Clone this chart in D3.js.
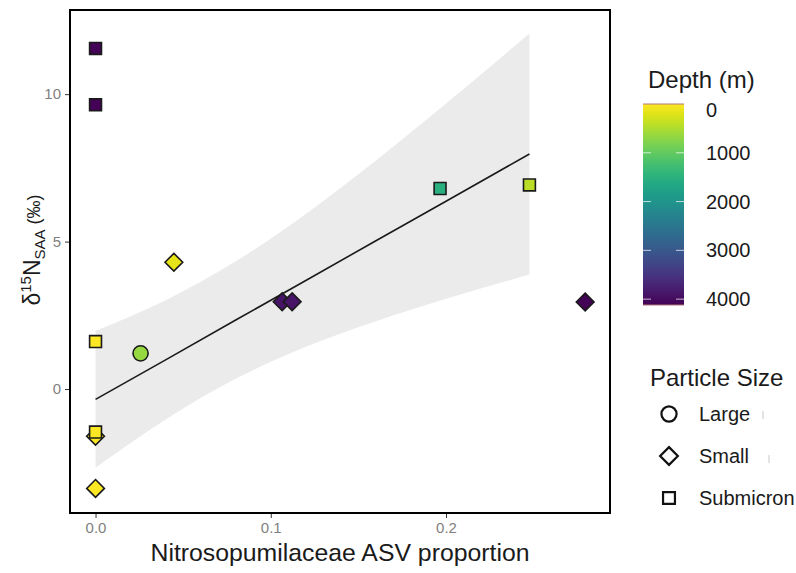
<!DOCTYPE html>
<html>
<head>
<meta charset="utf-8">
<script src="https://cdn.jsdelivr.net/npm/d3@7"></script>
<style>
  body { margin: 0; background: #fff; }
  text { font-family: "Liberation Sans", Arial, sans-serif; }
</style>
</head>
<body>
<svg width="796" height="573"></svg>
<script>
// points
var asvProp = [0, 0, 0.0447, 0, 0.0257, 0, 0, 0, 0.1065, 0.1122, 0.1966, 0.2476, 0.2794];
var d15n    = [11.55, 9.64, 4.30, 1.61, 1.21, -1.60, -1.46, -3.37, 2.96, 2.96, 6.80, 6.92, 2.95];
var depth   = [4100, 4100, 150, 20, 650, 20, 20, 30, 3900, 3900, 1500, 420, 4100];
var sizeCls = ['Submicron', 'Submicron', 'Small', 'Submicron', 'Large', 'Small', 'Submicron',
               'Small', 'Small', 'Small', 'Submicron', 'Submicron', 'Small'];

// linear fit and its confidence band
var fitX   = [0, 0.04, 0.08, 0.12, 0.16, 0.2, 0.2476];
var fitY   = [-0.35, 0.99, 2.34, 3.68, 5.03, 6.37, 7.97];
var fitLow = [-2.67, -1.03, 0.35, 1.43, 2.30, 3.06, 3.88];
var fitUp  = [1.97, 3.01, 4.33, 5.94, 7.75, 9.68, 12.06];

var xTicks = [0, 0.1, 0.2];
var yTicks = [0, 5, 10];
var depthTicks = [0, 1000, 2000, 3000, 4000];
var sizeLevels = ['Large', 'Small', 'Submicron'];

var svg = d3.select('svg');

var x = d3.scaleLinear().domain([-0.014, 0.293]).range([71, 609]);
var y = d3.scaleLinear().domain([-4.17, 12.82]).range([512, 11]);
var depthMax = 4120;
var color = function(d) { return d3.interpolateViridis(1 - d / depthMax); };

var band = fitX.map(function(v, i) {
  return {x: v, lo: fitLow[i], hi: fitUp[i], fit: fitY[i]};
});

svg.append('path')
  .datum(band)
  .attr('fill', '#ebebeb')
  .attr('d', d3.area()
    .curve(d3.curveMonotoneX)
    .x(function(d) { return x(d.x); })
    .y0(function(d) { return y(d.lo); })
    .y1(function(d) { return y(d.hi); }));

svg.append('path')
  .datum(band)
  .attr('fill', 'none')
  .attr('stroke', '#1a1a1a')
  .attr('stroke-width', 1.6)
  .attr('d', d3.line()
    .x(function(d) { return x(d.x); })
    .y(function(d) { return y(d.fit); }));

var symbolFor = {
  Large: d3.symbol().type(d3.symbolCircle).size(180),
  Small: d3.symbol().type(d3.symbolDiamond2).size(200),
  Submicron: d3.symbol().type(d3.symbolSquare2).size(180)
};

var pts = asvProp.map(function(v, i) {
  return {x: v, y: d15n[i], depth: depth[i], size: sizeCls[i]};
});

svg.selectAll('.pt')
  .data(pts)
  .enter()
  .append('path')
  .attr('class', 'pt')
  .attr('d', function(d) { return symbolFor[d.size](); })
  .attr('transform', function(d) {
    return 'translate(' + x(d.x) + ',' + y(d.y) + ')';
  })
  .attr('fill', function(d) { return color(d.depth); })
  .attr('stroke', '#1a1a1a')
  .attr('stroke-width', 1.6);

// panel border
svg.append('rect')
  .attr('x', 70).attr('y', 10)
  .attr('width', 540).attr('height', 503)
  .attr('fill', 'none')
  .attr('stroke', '#000')
  .attr('stroke-width', 2);

// axes
var xAxis = svg.append('g')
  .attr('transform', 'translate(0,514)')
  .call(d3.axisBottom(x).tickValues(xTicks).tickFormat(d3.format('.1f')).tickSize(4).tickPadding(4));
var yAxis = svg.append('g')
  .attr('transform', 'translate(69,0)')
  .call(d3.axisLeft(y).tickValues(yTicks).tickFormat(d3.format('d')).tickSize(4).tickPadding(4));
[xAxis, yAxis].forEach(function(a) {
  a.select('.domain').remove();
  a.selectAll('line').attr('stroke', '#333');
  a.selectAll('text').attr('fill', '#7f7f7f').style('font-size', '15px')
    .style('font-family', '"Liberation Sans", Arial, sans-serif');
});

svg.append('text')
  .attr('x', 340).attr('y', 561)
  .attr('text-anchor', 'middle')
  .style('font-size', '24.8px')
  .attr('fill', '#1a1a1a')
  .text('Nitrosopumilaceae ASV proportion');

var yt = svg.append('text')
  .attr('transform', 'translate(40,250) rotate(-90)')
  .attr('text-anchor', 'middle')
  .attr('fill', '#1a1a1a')
  .style('font-size', '23px');
yt.append('tspan').text('δ');
yt.append('tspan').attr('dy', -9).style('font-size', '15px').text('15');
yt.append('tspan').attr('dy', 9).text('N');
yt.append('tspan').attr('dy', 5).style('font-size', '15px').text('SAA');
yt.append('tspan').attr('dy', -5).style('font-size', '18px').text(' (‰)');

// depth colour bar
var cb = d3.scaleLinear().domain([0, depthMax]).range([104, 305]);
var defs = svg.append('defs');
var grad = defs.append('linearGradient')
  .attr('id', 'vir').attr('x1', 0).attr('x2', 0).attr('y1', 0).attr('y2', 1);
d3.range(0, 1.0001, 0.05).forEach(function(t) {
  grad.append('stop').attr('offset', t).attr('stop-color', color(t * depthMax));
});
svg.append('text')
  .attr('x', 648).attr('y', 88)
  .style('font-size', '24px')
  .attr('fill', '#1a1a1a')
  .text('Depth (m)');
svg.append('rect')
  .attr('x', 643).attr('y', cb(0))
  .attr('width', 41).attr('height', cb(depthMax) - cb(0))
  .attr('fill', 'url(#vir)');
[0, depthMax].forEach(function(v) {
  svg.append('line')
    .attr('x1', 643).attr('x2', 684)
    .attr('y1', cb(v)).attr('y2', cb(v))
    .attr('stroke', '#b07878').attr('stroke-width', 1);
});
depthTicks.filter(function(d) { return d > 0; }).forEach(function(d) {
  svg.append('line').attr('x1', 643).attr('x2', 651).attr('y1', cb(d)).attr('y2', cb(d))
    .attr('stroke', '#fff').attr('stroke-opacity', 0.7).attr('stroke-width', 1);
  svg.append('line').attr('x1', 676).attr('x2', 684).attr('y1', cb(d)).attr('y2', cb(d))
    .attr('stroke', '#fff').attr('stroke-opacity', 0.7).attr('stroke-width', 1);
});
svg.selectAll('.cbl')
  .data(depthTicks)
  .enter()
  .append('text')
  .attr('class', 'cbl')
  .attr('x', 706)
  .attr('y', function(d) { return Math.max(cb(d), 110); })
  .attr('dy', '0.35em')
  .style('font-size', '20px')
  .attr('fill', '#1a1a1a')
  .text(function(d) { return d; });

// particle size legend
svg.append('text')
  .attr('x', 650).attr('y', 386)
  .style('font-size', '24px')
  .attr('fill', '#1a1a1a')
  .text('Particle Size');
var lg = svg.selectAll('.lg')
  .data(sizeLevels)
  .enter()
  .append('g')
  .attr('class', 'lg')
  .attr('transform', function(d, i) { return 'translate(669,' + (414 + i * 42) + ')'; });
lg.append('path')
  .attr('d', function(d) { return symbolFor[d](); })
  .attr('fill', 'none')
  .attr('stroke', '#111')
  .attr('stroke-width', 2.2);
lg.append('text')
  .attr('x', 30).attr('dy', '0.35em')
  .style('font-size', '20px')
  .attr('fill', '#1a1a1a')
  .text(function(d) { return d; });
// faint tick marks that trail two of the legend labels
[[763, 415], [769, 459]].forEach(function(p) {
  svg.append('line')
    .attr('x1', p[0]).attr('x2', p[0])
    .attr('y1', p[1] - 4).attr('y2', p[1] + 4)
    .attr('stroke', '#c8c8c8').attr('stroke-width', 1);
});
</script>
</body>
</html>
